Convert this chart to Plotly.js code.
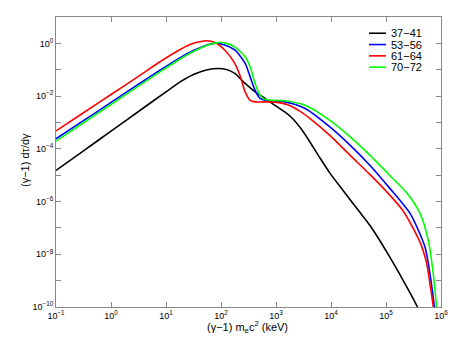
<!DOCTYPE html>
<html><head><meta charset="utf-8">
<script src="https://cdn.plot.ly/plotly-3.0.1.min.js"></script>
<style>html,body{margin:0;padding:0;background:#fff}</style>
</head><body><div id="chart" style="width:457px;height:343px"></div>
<script>
const seriesNames = ["37\u221241", "53\u221256", "61\u221264", "70\u221272"];
const seriesColors = ["#000000", "#0000ff", "#ff0000", "#00ff00"];
const xTitle = "(\u03b3\u22121) m<sub>e</sub>c<sup>2</sup> (keV)";
const yTitle = "(\u03b3\u22121) d\u03c4/d\u03b3";

const xBlack = [0.1, 0.316, 1, 3.16, 10, 17.8, 31.6, 56.2, 89.1, 126, 178, 275, 417, 631, 955, 1445, 1995, 2951, 4169, 6310, 9550, 16596, 31623, 51286, 117490, 239883, 389045, 446684];
const yBlack = [1.51e-5, 8.41e-5, 4.68e-4, 2.6e-3, 1.45e-2, 3.39e-2, 6.61e-2, 0.1, 0.112, 0.102, 7.24e-2, 3.02e-2, 1.45e-2, 8.13e-3, 4.47e-3, 2.51e-3, 1.41e-3, 5.25e-4, 1.78e-4, 4.47e-5, 1.2e-5, 2.63e-6, 4.57e-7, 1.23e-7, 7.76e-9, 5.62e-10, 8.3e-11, 4e-11];

const xBlue = [0.1, 0.316, 1, 3.16, 7.76, 17.8, 31.6, 56.2, 83.2, 112, 178, 275, 339, 417, 513, 631, 1445, 3388, 9550, 22387, 51286, 117490, 275423, 512861, 630957, 758578, 794328];
const yBlue = [2.4e-4, 1.17e-3, 5.75e-3, 2.82e-2, 9.55e-2, 0.282, 0.537, 0.871, 1.02, 0.891, 0.562, 0.174, 5.37e-2, 1.66e-2, 8.13e-3, 6.92e-3, 6.03e-3, 3.39e-3, 6.76e-4, 1.35e-4, 2.34e-5, 3.16e-6, 3.47e-7, 1.86e-8, 1.78e-9, 1e-10, 4e-11];

const xRed = [0.1, 0.316, 1, 3.16, 7.76, 17.8, 31.6, 55.0, 79.4, 117, 178, 224, 275, 339, 417, 631, 955, 1585, 2754, 4169, 9550, 22387, 51286, 1e5, 204174, 416869, 549541, 630957, 724436, 758578];
const yRed = [4.79e-4, 2.34e-3, 1.15e-2, 5.62e-2, 0.2, 0.575, 1.0, 1.26, 1.05, 0.562, 0.174, 5.62e-2, 1.45e-2, 6.92e-3, 6.03e-3, 6.03e-3, 5.89e-3, 4.79e-3, 2.63e-3, 1.41e-3, 3.24e-4, 5.62e-5, 1.05e-5, 2.51e-6, 4.47e-7, 2.82e-8, 4.47e-9, 7.41e-10, 1e-10, 4e-11];

const xGreen = [0.1, 0.316, 1, 3.16, 7.76, 17.8, 31.6, 56.2, 89.1, 126, 178, 275, 339, 417, 513, 631, 1445, 3388, 9550, 22387, 51286, 117490, 239883, 416869, 588844, 724436, 831764, 870964];
const yGreen = [1.95e-4, 9.77e-4, 4.79e-3, 2.4e-2, 8.32e-2, 0.251, 0.49, 0.851, 1.07, 1.0, 0.741, 0.309, 0.129, 3.02e-2, 1.07e-2, 7.41e-3, 6.61e-3, 4.47e-3, 1.2e-3, 2.82e-4, 5.62e-5, 9.77e-6, 2.09e-6, 3.47e-7, 3.31e-8, 1.78e-9, 1e-10, 4e-11];

const xTickVals = [0.1, 1, 10, 100, 1e3, 1e4, 1e5, 1e6];
const xTickText = ["10<sup>\u22121</sup>", "10<sup>0</sup>", "10<sup>1</sup>", "10<sup>2</sup>", "10<sup>3</sup>", "10<sup>4</sup>", "10<sup>5</sup>", "10<sup>6</sup>"];
const yTickVals = [1e-10, 1e-9, 1e-8, 1e-7, 1e-6, 1e-5, 1e-4, 1e-3, 1e-2, 1e-1, 1, 10];
const yTickText = ["10<sup>\u221210</sup>", "", "10<sup>\u22128</sup>", "", "10<sup>\u22126</sup>", "", "10<sup>\u22124</sup>", "", "10<sup>\u22122</sup>", "", "10<sup>0</sup>", ""];

const xs = [xBlack, xBlue, xRed, xGreen];
const ys = [yBlack, yBlue, yRed, yGreen];

const traces = xs.map((x, i) => ({
  x: x, y: ys[i], type: "scatter", mode: "lines", name: seriesNames[i],
  line: {color: seriesColors[i], width: 1.6, shape: "spline", smoothing: 0.7},
  cliponaxis: true, showlegend: false
}));

const legY = [0.944, 0.905, 0.866, 0.827];
const shapes = seriesNames.map((n, i) => ({
  type: "line", xref: "paper", yref: "paper",
  x0: 0.813, x1: 0.857, y0: legY[i], y1: legY[i],
  line: {color: seriesColors[i], width: 1.6}
}));
const annotations = seriesNames.map((n, i) => ({
  xref: "paper", yref: "paper", x: 0.865, y: legY[i], text: n,
  showarrow: false, xanchor: "left", yanchor: "middle",
  font: {size: 11, color: "#000"}
}));
annotations.push({
  xref: "paper", yref: "paper", x: 0.497, y: -0.068, text: xTitle,
  showarrow: false, xanchor: "center", yanchor: "middle", font: {size: 11, color: "#000"}
});
annotations.push({
  xref: "paper", yref: "paper", x: -0.0805, y: 0.507, text: yTitle, textangle: -90,
  showarrow: false, xanchor: "center", yanchor: "middle", font: {size: 11, color: "#000"}
});

const axisCommon = {
  type: "log", showgrid: false, zeroline: false, showline: true, linecolor: "#888", linewidth: 1,
  mirror: "ticks", ticks: "inside", ticklen: 5, tickcolor: "#888", tickwidth: 1,
  tickmode: "array", tickfont: {size: 9, color: "#000"}
};

const layout = {
  width: 457, height: 343,
  margin: {l: 56, r: 16, t: 17, b: 36},
  paper_bgcolor: "#fff", plot_bgcolor: "#fff",
  font: {family: "Liberation Sans, Arial, sans-serif", color: "#000"},
  xaxis: Object.assign({}, axisCommon, {range: [-1, 6], tickvals: xTickVals, ticktext: xTickText}),
  yaxis: Object.assign({}, axisCommon, {range: [-10, 1], tickvals: yTickVals, ticktext: yTickText}),
  shapes: shapes, annotations: annotations, showlegend: false
};

Plotly.newPlot("chart", traces, layout, {displayModeBar: false, staticPlot: true});
</script></body></html>
